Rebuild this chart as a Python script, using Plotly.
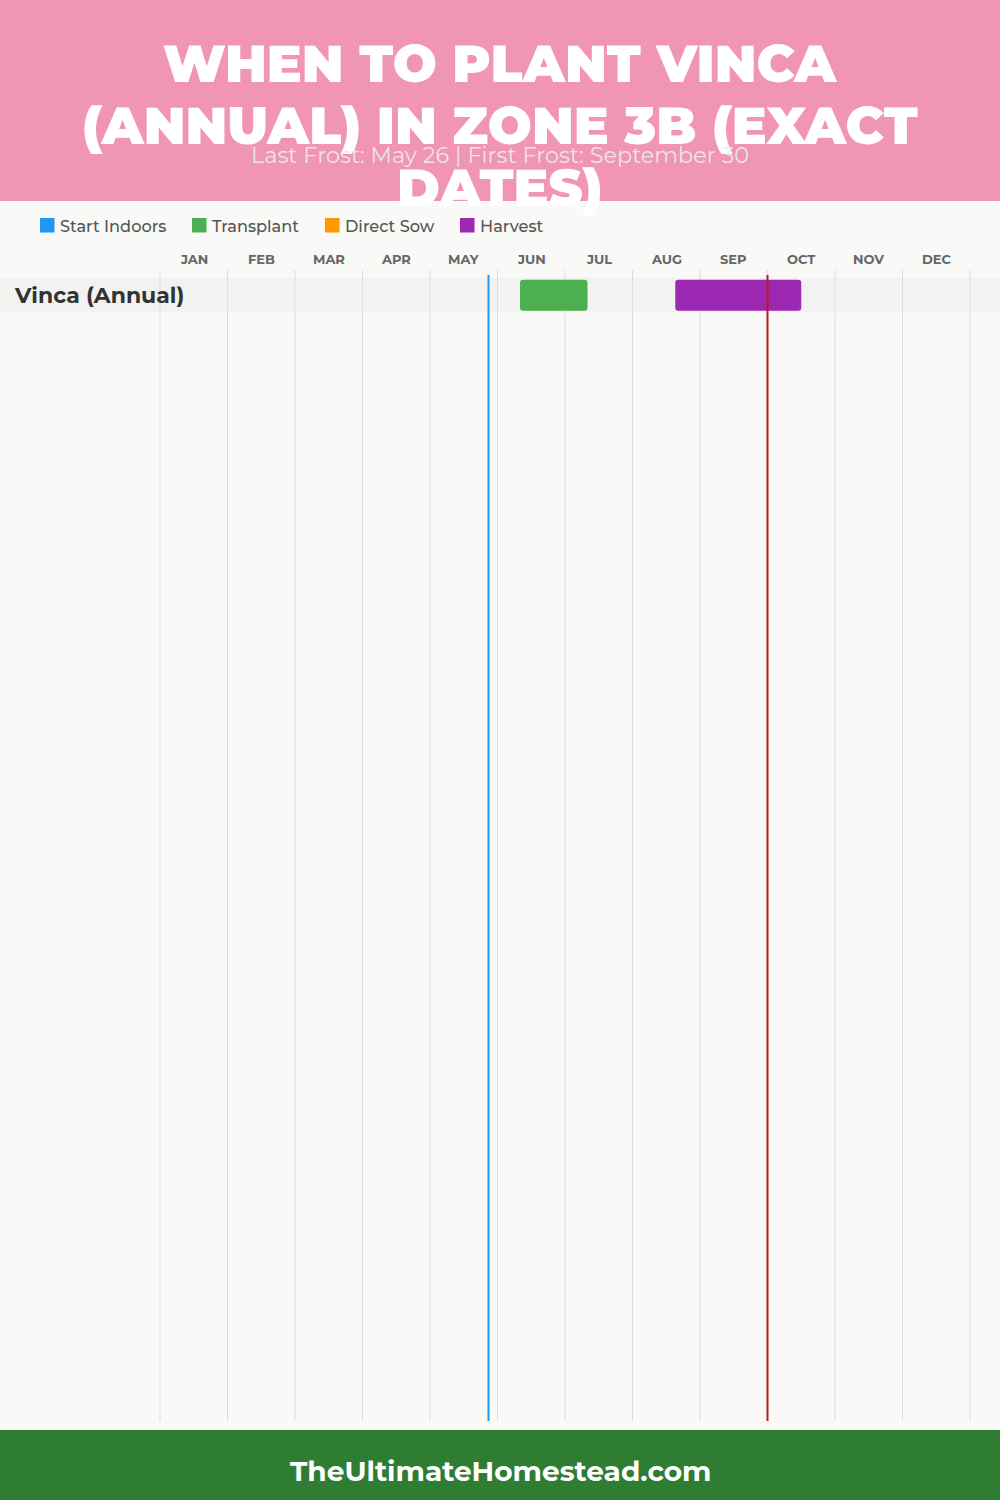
import plotly.graph_objects as go

# ---------------- data ----------------
months = ["JAN", "FEB", "MAR", "APR", "MAY", "JUN", "JUL", "AUG", "SEP", "OCT", "NOV", "DEC"]
plant = "Vinca (Annual)"
stage_names = ["Transplant", "Harvest"]
stage_start = [(6, 10), (8, 19)]   # (month, day)
stage_end = [(7, 10), (10, 15)]
legend_names = ["Start Indoors", "Transplant", "Direct Sow", "Harvest"]
legend_colors = ["#2196F3", "#4CAF50", "#FF9800", "#9C27B0"]
last_frost = (5, 26)
first_frost = (9, 30)
title_lines = ["WHEN TO PLANT VINCA", "(ANNUAL) IN ZONE 3B (EXACT", "DATES)"]
subtitle_text = "Last Frost: May 26 | First Frost: September 30"
footer_text = "TheUltimateHomestead.com"


def to_m(md):
    m, d = md
    return (m - 1) + d / 30.0


color_of = dict(zip(legend_names, legend_colors))

FONT = "Montserrat, 'Open Sans', sans-serif"
X0, MW = 160.0, 67.5           # pixel of Jan start, month width
ROW_Y = 295.3

fig = go.Figure()

for name, s, e in zip(stage_names, stage_start, stage_end):
    fig.add_trace(go.Bar(
        orientation="h", y=[ROW_Y], base=[to_m(s)], x=[to_m(e) - to_m(s)],
        width=31, marker=dict(color=color_of[name], line=dict(width=0)),
        showlegend=False, hoverinfo="skip", name=name,
    ))

shapes = []
shapes.append(dict(type="rect", xref="paper", yref="y", x0=0, x1=1, y0=0, y1=201,
                   fillcolor="#F095B3", line=dict(width=0), layer="below"))
shapes.append(dict(type="rect", xref="paper", yref="y", x0=0, x1=1, y0=1430, y1=1500,
                   fillcolor="#2E7D32", line=dict(width=0), layer="below"))
shapes.append(dict(type="rect", xref="paper", yref="y", x0=0, x1=1, y0=277.7, y1=312.7,
                   fillcolor="#F2F2F0", line=dict(width=0), layer="below"))
for i in range(13):
    shapes.append(dict(type="line", xref="x", yref="y", x0=i, x1=i, y0=270, y1=1421,
                       line=dict(color="#DDDDDD", width=1), layer="below"))
shapes.append(dict(type="line", xref="x", yref="y", x0=to_m(last_frost), x1=to_m(last_frost),
                   y0=275, y1=1421, line=dict(color="#2196F3", width=2), layer="above"))
shapes.append(dict(type="line", xref="x", yref="y", x0=to_m(first_frost), x1=to_m(first_frost),
                   y0=275, y1=1421, line=dict(color="#B71C1C", width=2), layer="above"))

legend_x = [40, 192, 325, 460]
for lx, c in zip(legend_x, legend_colors):
    shapes.append(dict(type="rect", xref="x", yref="y",
                       x0=(lx - X0) / MW, x1=(lx + 14.5 - X0) / MW, y0=218, y1=232.5,
                       fillcolor=c, line=dict(width=0), layer="above"))

annotations = []
for ty, line in zip([63, 125, 187], title_lines):
    annotations.append(dict(text=line, xref="paper", yref="y", x=0.5, y=ty,
                            xanchor="center", yanchor="middle", showarrow=False,
                            font=dict(family=FONT, size=52, color="white", weight=900)))
annotations.append(dict(text=subtitle_text, xref="paper", yref="y", x=0.5, y=155,
                        xanchor="center", yanchor="middle", showarrow=False,
                        font=dict(family=FONT, size=22.4, color="rgba(235,235,235,0.95)")))
for lx, n in zip(legend_x, legend_names):
    annotations.append(dict(text=n, xref="x", yref="y", x=(lx + 18 - X0) / MW, y=225.5,
                            xanchor="left", yanchor="middle", showarrow=False,
                            font=dict(family=FONT, size=16.2, color="#555555", weight=500)))
for i, m in enumerate(months):
    annotations.append(dict(text=m, xref="x", yref="y", x=i + 0.5, y=259,
                            xanchor="center", yanchor="middle", showarrow=False,
                            font=dict(family=FONT, size=13, color="#666666", weight="bold")))
annotations.append(dict(text=plant, xref="x", yref="y", x=(12 - X0) / MW, y=ROW_Y,
                        xanchor="left", yanchor="middle", showarrow=False,
                        font=dict(family=FONT, size=22, color="#333333", weight="bold")))
annotations.append(dict(text=footer_text, xref="paper", yref="y", x=0.5, y=1471,
                        xanchor="center", yanchor="middle", showarrow=False,
                        font=dict(family=FONT, size=28, color="white", weight="bold")))

fig.update_layout(
    width=1000, height=1500,
    margin=dict(l=0, r=0, t=0, b=0, pad=0),
    paper_bgcolor="#F9F9F7", plot_bgcolor="#F9F9F7",
    barmode="overlay", barcornerradius=3,
    xaxis=dict(range=[(0 - X0) / MW, (1000 - X0) / MW], visible=False, fixedrange=True),
    yaxis=dict(range=[1500, 0], visible=False, fixedrange=True),
    shapes=shapes, annotations=annotations, showlegend=False,
)

fig.write_html("out.html", config={"displayModeBar": False})
